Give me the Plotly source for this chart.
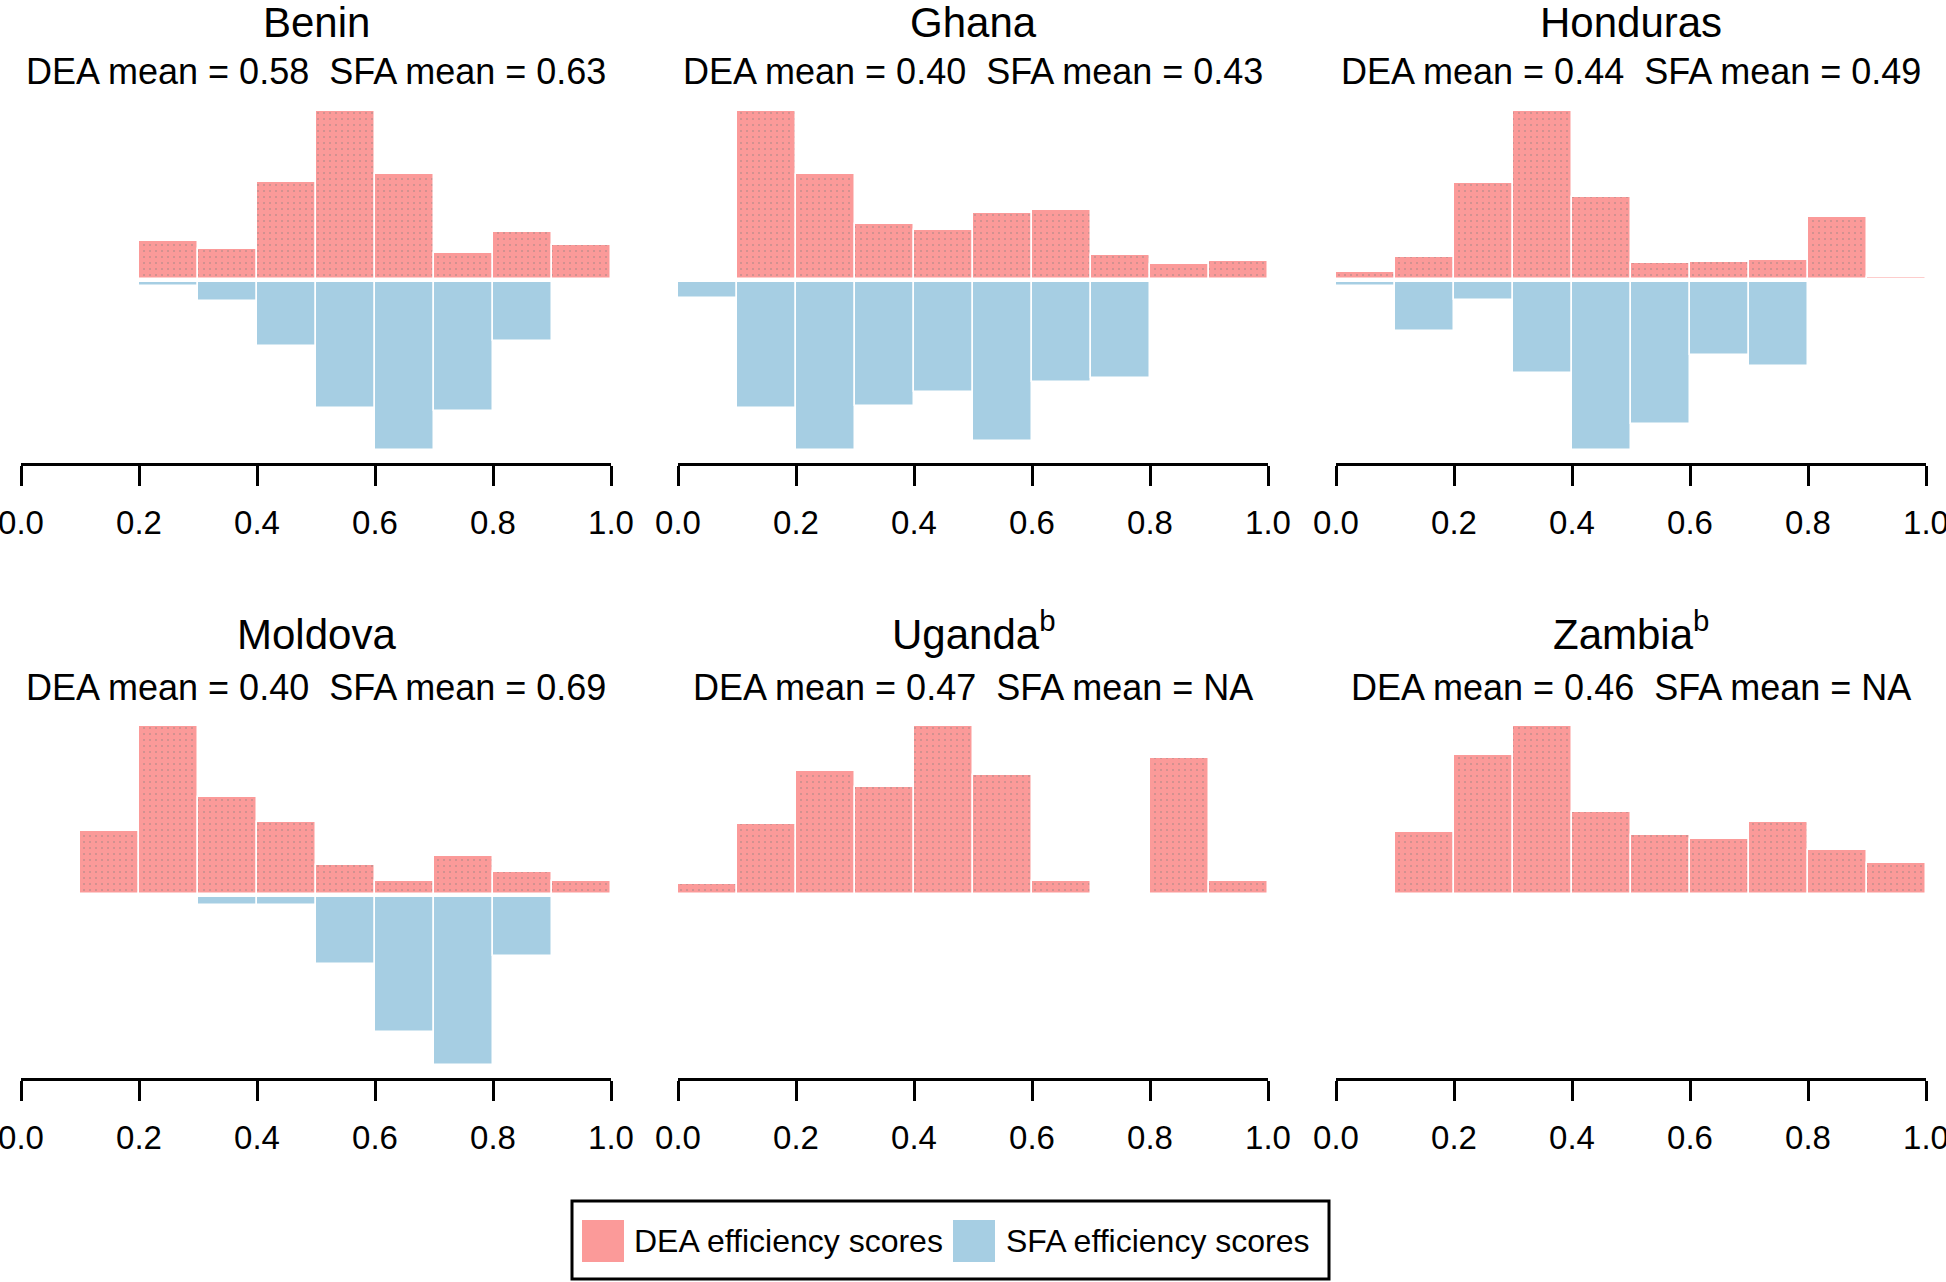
import plotly.graph_objects as go

# ---------------- data (relative bin heights, tallest bar = 1) ----------------
bin_centers = [0.05, 0.15, 0.25, 0.35, 0.45, 0.55, 0.65, 0.75, 0.85, 0.95]
tick_vals = [0.0, 0.2, 0.4, 0.6, 0.8, 1.0]
tick_text = ["0.0", "0.2", "0.4", "0.6", "0.8", "1.0"]

countries = ["Benin", "Ghana", "Honduras", "Moldova", "Uganda<sup>b</sup>", "Zambia<sup>b</sup>"]
dea_means = ["0.58", "0.40", "0.44", "0.40", "0.47", "0.46"]
sfa_means = ["0.63", "0.43", "0.49", "0.69", "NA", "NA"]

benin_dea = [0, 0, 0.225, 0.178, 0.578, 1.0, 0.627, 0.152, 0.281, 0.203]
benin_sfa = [0, 0, 0.025, 0.115, 0.38, 0.75, 1.0, 0.77, 0.353, 0]
ghana_dea = [0, 1.0, 0.627, 0.326, 0.291, 0.393, 0.41, 0.141, 0.09, 0.109]
ghana_sfa = [0.094, 0.747, 1.0, 0.741, 0.655, 0.949, 0.598, 0.571, 0, 0]
honduras_dea = [0.043, 0.133, 0.574, 1.0, 0.49, 0.098, 0.102, 0.113, 0.367, 0.012]
honduras_sfa = [0.025, 0.29, 0.109, 0.542, 1.0, 0.846, 0.437, 0.501, 0, 0]
moldova_dea = [0, 0.376, 1.0, 0.58, 0.431, 0.175, 0.08, 0.228, 0.131, 0.08]
moldova_sfa = [0, 0, 0, 0.049, 0.049, 0.396, 0.805, 1.0, 0.352, 0]
uganda_dea = [0.058, 0.414, 0.732, 0.639, 1.0, 0.708, 0.08, 0, 0.81, 0.077]
zambia_dea = [0, 0.367, 0.827, 1.0, 0.491, 0.354, 0.33, 0.427, 0.261, 0.186]

dea_series = [benin_dea, ghana_dea, honduras_dea, moldova_dea, uganda_dea, zambia_dea]
sfa_series = [benin_sfa, ghana_sfa, honduras_sfa, moldova_sfa, None, None]

# ---------------- styling ----------------
W, H = 1946, 1282
FONT = "Liberation Sans, Arial, Helvetica, sans-serif"
PINK = "#FB9A99"
BLUE = "#A6CEE3"
DOTS = "#3F6F6D"

def fx(p):
    return p / W

def fy(p):
    return 1 - p / H

col_left = [21, 678, 1336]
panel_w = 590
row_axis = [463, 1078]      # pixel y of the axis line
row_top = [110, 725]        # pixel y of the tallest DEA bar
row_zero = [280.5, 895.5]   # pixel y of the zero line
title_bottom = [47, 659]    # pixel y of the bottom of the title text box
sub_mid = [72, 687]         # pixel y of the middle of the subtitle
scale_px = 168.0            # pixels for a relative height of 1
gap = 1.5 / scale_px        # half gap between DEA and SFA bars

fig = go.Figure()
annotations = []

for i in range(6):
    r, c = divmod(i, 3)
    suffix = "" if i == 0 else str(i + 1)
    xa, ya = "x" + suffix, "y" + suffix

    fig.add_trace(go.Bar(
        x=bin_centers, y=dea_series[i], base=gap, width=0.1,
        xaxis=xa, yaxis=ya, showlegend=False,
        marker=dict(color=PINK, line=dict(color="white", width=1.5),
                    pattern=dict(shape=".", fgcolor=DOTS, bgcolor=PINK,
                                 size=6, solidity=0.06)),
        name="DEA efficiency scores"))
    if sfa_series[i] is not None:
        fig.add_trace(go.Bar(
            x=bin_centers, y=[-v for v in sfa_series[i]], base=-gap, width=0.1,
            xaxis=xa, yaxis=ya, showlegend=False,
            marker=dict(color=BLUE, line=dict(color="white", width=1.5)),
            name="SFA efficiency scores"))

    x0 = col_left[c]
    x1 = x0 + panel_w
    ybot = row_axis[r]
    ytop = row_top[r]
    zero = row_zero[r]
    yr = [-(ybot - zero) / scale_px, (zero - ytop) / scale_px]

    fig.layout["xaxis" + suffix] = dict(
        domain=[fx(x0), fx(x1)], anchor=ya, range=[0, 1],
        tickvals=tick_vals, ticktext=tick_text, ticks="outside",
        ticklen=20, tickwidth=3, tickcolor="black",
        showline=True, linewidth=3, linecolor="black",
        showgrid=False, zeroline=False, fixedrange=True, automargin=False,
        ticklabeloverflow="allow",
        tickfont=dict(family=FONT, size=33, color="black"),
        ticklabelstandoff=8)
    fig.layout["yaxis" + suffix] = dict(
        domain=[fy(ybot), fy(ytop)], anchor=xa, range=yr,
        visible=False, fixedrange=True, automargin=False)

    cx = fx((x0 + x1) / 2)
    annotations.append(dict(
        text=countries[i], x=cx, y=fy(title_bottom[r]), xref="paper", yref="paper",
        xanchor="center", yanchor="bottom", showarrow=False, borderpad=0,
        font=dict(family=FONT, size=42, color="black")))
    annotations.append(dict(
        text=f"DEA mean = {dea_means[i]} \u00a0SFA mean = {sfa_means[i]}",
        x=cx, y=fy(sub_mid[r]), xref="paper", yref="paper",
        xanchor="center", yanchor="middle", showarrow=False, borderpad=0,
        font=dict(family=FONT, size=36, color="black")))

# ---------------- legend (drawn to match the boxed R legend) ----------------
shapes = [
    dict(type="rect", xref="paper", yref="paper",
         x0=fx(572), x1=fx(1329), y0=fy(1279), y1=fy(1201),
         line=dict(color="black", width=3), fillcolor="white"),
    dict(type="rect", xref="paper", yref="paper",
         x0=fx(582), x1=fx(624), y0=fy(1262), y1=fy(1220),
         line=dict(width=0), fillcolor=PINK),
    dict(type="rect", xref="paper", yref="paper",
         x0=fx(953), x1=fx(995), y0=fy(1262), y1=fy(1220),
         line=dict(width=0), fillcolor=BLUE),
]
annotations.append(dict(
    text="DEA efficiency scores", x=fx(633), y=fy(1241), xref="paper", yref="paper",
    xanchor="left", yanchor="middle", showarrow=False, borderpad=0,
    font=dict(family=FONT, size=32, color="black")))
annotations.append(dict(
    text="SFA efficiency scores", x=fx(1005), y=fy(1241), xref="paper", yref="paper",
    xanchor="left", yanchor="middle", showarrow=False, borderpad=0,
    font=dict(family=FONT, size=32, color="black")))

fig.update_layout(
    width=W, height=H, margin=dict(l=0, r=0, t=0, b=0, autoexpand=False),
    paper_bgcolor="white", plot_bgcolor="white",
    barmode="overlay", bargap=0, showlegend=False,
    annotations=annotations, shapes=shapes,
    font=dict(family=FONT, color="black"))

# hide the mode bar and remove the browser's default 8px page margin
fig.write_html("out.html", config={"displayModeBar": False},
               post_script="document.body.style.margin='0';")
